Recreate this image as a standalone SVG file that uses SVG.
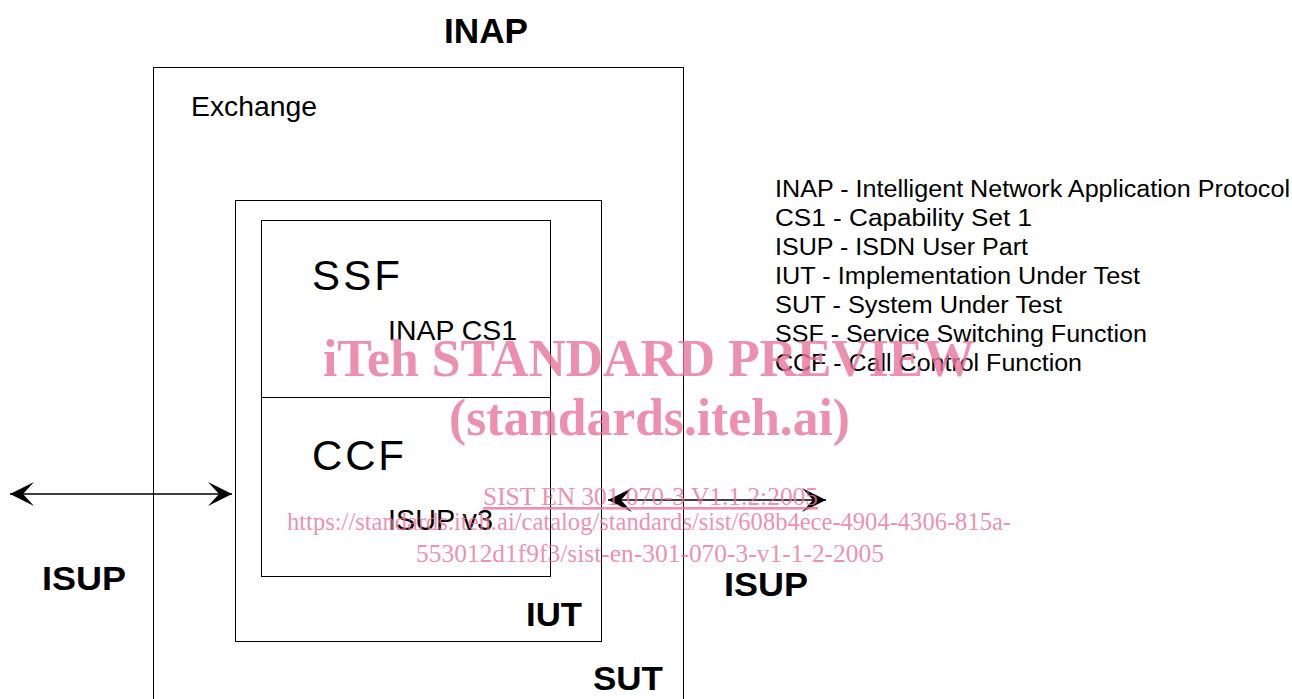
<svg xmlns="http://www.w3.org/2000/svg" width="1292" height="699" viewBox="0 0 1292 699">
<defs>
<marker id="ah" markerUnits="userSpaceOnUse" markerWidth="26" markerHeight="26" refX="24" refY="13" orient="auto-start-reverse" viewBox="0 0 26 26">
<path d="M24,13 L0,1 L11,13 L0,25 Z" fill="#000"/>
</marker>
<style>
.box{fill:none;stroke:#000;stroke-width:1}
.t{font-family:"Liberation Sans",Arial,sans-serif;fill:#000}
.b{font-weight:bold}
.wm{font-family:"Liberation Serif","Times New Roman",serif;fill:#e8739a;fill-opacity:0.8}
.conn{stroke:#000;stroke-width:1.6;fill:none}
</style>
</defs>
<rect width="1292" height="699" fill="#fff"/>
<g id="title"><text class="t b" x="444" y="43" font-size="35" textLength="84" lengthAdjust="spacingAndGlyphs">INAP</text></g>
<g id="exchange">
<rect class="box" x="153.5" y="67.5" width="530" height="660" stroke="#444"/>
<text class="t" x="191" y="116" font-size="27" textLength="126" lengthAdjust="spacingAndGlyphs">Exchange</text>
<text class="t b" x="593" y="690" font-size="34" textLength="70" lengthAdjust="spacingAndGlyphs">SUT</text>
</g>
<g id="iut">
<rect class="box" x="235.5" y="200.5" width="366" height="441" stroke="#444"/>
<text class="t b" x="526" y="626" font-size="34" textLength="56" lengthAdjust="spacingAndGlyphs">IUT</text>
</g>
<g id="ssf">
<rect class="box" x="261.5" y="220.5" width="289" height="177"/>
<text class="t" x="312" y="290" font-size="42" textLength="88">SSF</text>
<text class="t" x="388" y="340" font-size="28" textLength="129" lengthAdjust="spacingAndGlyphs">INAP CS1</text>
</g>
<g id="ccf">
<rect class="box" x="261.5" y="397.5" width="289" height="179"/>
<text class="t" x="312" y="470" font-size="42" textLength="92">CCF</text>
<text class="t" x="388" y="530" font-size="29" textLength="105" lengthAdjust="spacingAndGlyphs">ISUP v3</text>
</g>
<g id="connectors">
<line class="conn" x1="10" y1="494" x2="232" y2="494" marker-start="url(#ah)" marker-end="url(#ah)"/>
<line class="conn" x1="608" y1="500" x2="826" y2="500" marker-start="url(#ah)" marker-end="url(#ah)"/>
</g>
<g id="isup-left"><text class="t b" x="42" y="590" font-size="33" textLength="84" lengthAdjust="spacingAndGlyphs">ISUP</text></g>
<g id="isup-right"><text class="t b" x="724" y="596" font-size="33" textLength="84" lengthAdjust="spacingAndGlyphs">ISUP</text></g>
<g id="legend">
<text class="t" x="775" y="197" font-size="23" textLength="515" lengthAdjust="spacingAndGlyphs">INAP - Intelligent Network Application Protocol</text>
<text class="t" x="775" y="226" font-size="23" textLength="257" lengthAdjust="spacingAndGlyphs">CS1 - Capability Set 1</text>
<text class="t" x="775" y="255" font-size="23" textLength="253" lengthAdjust="spacingAndGlyphs">ISUP - ISDN User Part</text>
<text class="t" x="775" y="284" font-size="23" textLength="365" lengthAdjust="spacingAndGlyphs">IUT - Implementation Under Test</text>
<text class="t" x="775" y="313" font-size="23" textLength="287" lengthAdjust="spacingAndGlyphs">SUT - System Under Test</text>
<text class="t" x="775" y="342" font-size="23" textLength="372" lengthAdjust="spacingAndGlyphs">SSF - Service Switching Function</text>
<text class="t" x="775" y="371" font-size="23" textLength="307" lengthAdjust="spacingAndGlyphs">CCF - Call Control Function</text>
</g>
<g id="watermark">
<text class="wm" x="323" y="376" font-size="52" font-weight="bold" textLength="652" lengthAdjust="spacingAndGlyphs">iTeh STANDARD PREVIEW</text>
<text class="wm" x="449" y="435" font-size="52" font-weight="bold" textLength="401" lengthAdjust="spacingAndGlyphs">(standards.iteh.ai)</text>
<text class="wm" x="483" y="505" font-size="26" text-decoration="underline" textLength="335" lengthAdjust="spacingAndGlyphs">SIST EN 301 070-3 V1.1.2:2005</text>
<text class="wm" x="287" y="530" font-size="26" textLength="724" lengthAdjust="spacingAndGlyphs">https://standards.iteh.ai/catalog/standards/sist/608b4ece-4904-4306-815a-</text>
<text class="wm" x="416" y="562" font-size="26" textLength="468" lengthAdjust="spacingAndGlyphs">553012d1f9f3/sist-en-301-070-3-v1-1-2-2005</text>
</g>
</svg>
